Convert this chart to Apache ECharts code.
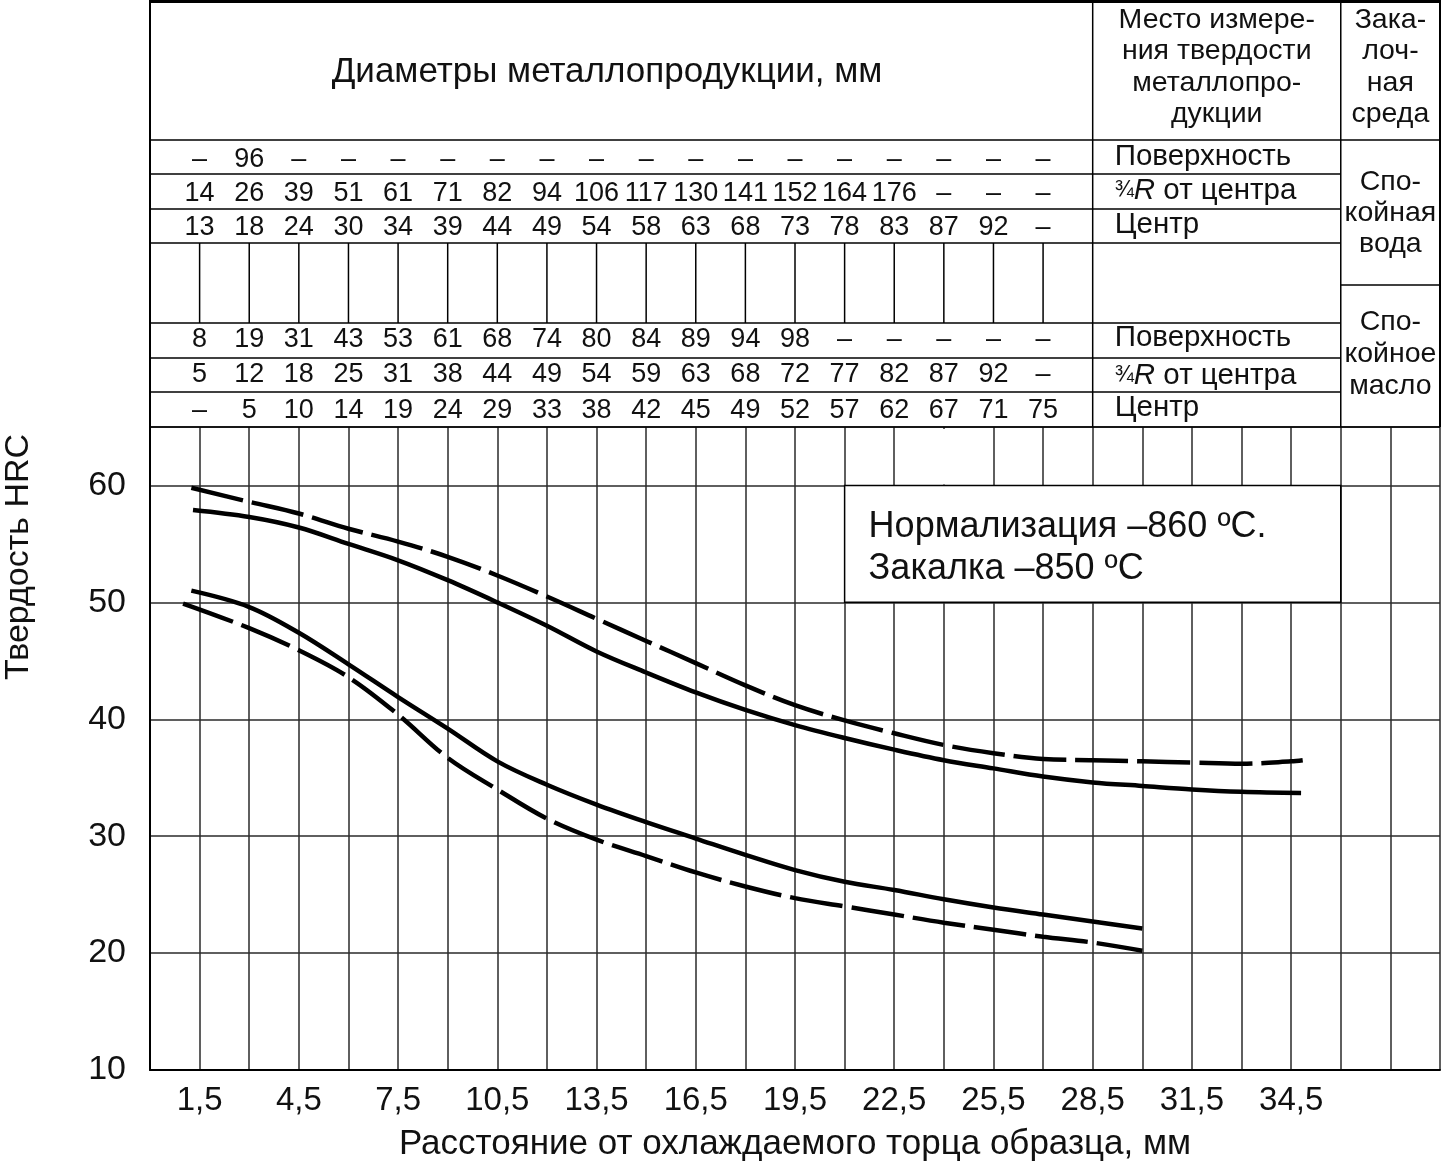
<!DOCTYPE html>
<html>
<head>
<meta charset="utf-8">
<script src="https://cdn.jsdelivr.net/npm/echarts@6/dist/echarts.min.js"></script>
<style>
  html, body { margin: 0; padding: 0; background: #fff; }
  #chart { width: 1451px; height: 1167px; }
</style>
</head>
<body>
<div id="chart"></div>
<script>
// hardness curves: [distance from quenched end, mm ; HRC]
const upperDashed = [[1.25,59.8],[3,58.6],[4.5,57.6],[6,56.3],[7.5,55.2],[9,53.9],[10.5,52.3],[12,50.5],[13.5,48.6],[15,46.7],[16.5,44.8],[18,42.9],[19.5,41.2],[21,39.9],[22.5,38.8],[24,37.8],[25.5,37.1],[27,36.6],[28.5,36.5],[30,36.4],[31.5,36.3],[33,36.2],[34.5,36.4],[34.85,36.5]];
const upperSolid = [[1.3,57.9],[3,57.3],[4.5,56.4],[6,55.0],[7.5,53.6],[9,51.9],[10.5,50.0],[12,48.0],[13.5,45.8],[15,44.0],[16.5,42.3],[18,40.8],[19.5,39.5],[21,38.4],[22.5,37.4],[24,36.5],[25.5,35.8],[27,35.1],[28.5,34.6],[30,34.3],[31.5,34.0],[33,33.8],[34.8,33.7]];
const lowerSolid = [[1.25,51.0],[3,49.6],[4.5,47.4],[6,44.7],[7.5,41.9],[9,39.2],[10.5,36.4],[12,34.4],[13.5,32.7],[15,31.2],[16.5,29.8],[18,28.4],[19.5,27.1],[21,26.1],[22.5,25.4],[24,24.6],[25.5,23.9],[27,23.3],[28.5,22.7],[30,22.1]];
const lowerDashed = [[1.0,49.9],[3,47.8],[4.5,45.9],[6,43.6],[7.5,40.4],[9,36.7],[10.5,34.0],[12,31.5],[13.5,29.7],[15,28.3],[16.5,26.9],[18,25.7],[19.5,24.7],[21,24.0],[22.5,23.3],[24,22.6],[25.5,22.0],[27,21.4],[28.5,20.9],[30,20.2]];

const xTicks = [1.5,4.5,7.5,10.5,13.5,16.5,19.5,22.5,25.5,28.5,31.5,34.5];
const yTicks = [10,20,30,40,50,60];

// diameter table (columns sit on the distance grid)
const tableCols = [1.5,3,4.5,6,7.5,9,10.5,12,13.5,15,16.5,18,19.5,21,22.5,24,25.5,27];
const waterSurface = ['–','96','–','–','–','–','–','–','–','–','–','–','–','–','–','–','–','–'];
const waterQuarter = ['14','26','39','51','61','71','82','94','106','117','130','141','152','164','176','–','–','–'];
const waterCenter  = ['13','18','24','30','34','39','44','49','54','58','63','68','73','78','83','87','92','–'];
const oilSurface   = ['8','19','31','43','53','61','68','74','80','84','89','94','98','–','–','–','–','–'];
const oilQuarter   = ['5','12','18','25','31','38','44','49','54','59','63','68','72','77','82','87','92','–'];
const oilCenter    = ['–','5','10','14','19','24','29','33','38','42','45','49','52','57','62','67','71','75'];

const FONT = '"Liberation Sans", Arial, Helvetica, sans-serif';
const INK = '#111';
const GRIDLINE = '#2a2a2a';

const chart = echarts.init(document.getElementById('chart'));

function curve(name, data, dashed) {
  return {
    name: name,
    type: 'line',
    data: data,
    smooth: 0.35,
    symbol: 'none',
    z: 5,
    lineStyle: { color: '#000', width: 4.5, type: dashed ? [53, 9] : 'solid', cap: 'butt' }
  };
}

const near = (arr, v) => arr.some(t => Math.abs(t - v) < 1e-6);

chart.setOption({
  animation: false,
  backgroundColor: '#fff',
  grid: { left: 150, top: 427, right: 11, bottom: 94 },
  xAxis: {
    type: 'value', min: 0, max: 39, interval: 1.5,
    axisLine: { show: true, lineStyle: { color: '#000', width: 2 } },
    axisTick: { show: false },
    axisLabel: {
      margin: 14, fontSize: 33, color: INK, fontFamily: FONT,
      formatter: v => near(xTicks, v) ? String(v).replace('.', ',') : ''
    },
    splitLine: { show: true, lineStyle: { color: GRIDLINE, width: 1.5 } },
    name: 'Расстояние от охлаждаемого торца образца, мм',
    nameLocation: 'middle', nameGap: 57,
    nameTextStyle: { fontSize: 35, color: INK, fontFamily: FONT }
  },
  yAxis: {
    type: 'value', min: 10, max: 65, interval: 10,
    axisLine: { show: true, lineStyle: { color: '#000', width: 2 } },
    axisTick: { show: false },
    axisLabel: {
      margin: 24, fontSize: 34, color: INK, fontFamily: FONT,
      formatter: v => near(yTicks, v) ? String(v) : ''
    },
    splitLine: { show: true, lineStyle: { color: GRIDLINE, width: 1.5 } }
  },
  series: [
    curve('upperDashed', upperDashed, true),
    curve('upperSolid', upperSolid, false),
    curve('lowerSolid', lowerSolid, false),
    curve('lowerDashed', lowerDashed, true)
  ]
});

// ---- table, annotation and side labels, placed through the x scale ----
const px = v => chart.convertToPixel({ xAxisIndex: 0 }, v);
const py = v => chart.convertToPixel({ yAxisIndex: 0 }, v);

const L = px(0), R = px(39), colMid = px(28.5), colRight = px(36);
const g = [];

function line(x1, y1, x2, y2, w) {
  g.push({ type: 'line', z: 50, shape: { x1, y1, x2, y2 }, style: { stroke: '#000', lineWidth: w || 1.5 } });
}
function text(str, x, y, size, align, extra) {
  g.push({
    type: 'text', z: 60, x: x, y: y,
    style: Object.assign({ text: str, fill: INK, font: size + 'px ' + FONT,
      textAlign: align || 'center', textVerticalAlign: 'middle' }, extra || {})
  });
}
function block(str, x, y, size, lh) {
  g.push({ type: 'text', z: 60, x: x, y: y,
    style: { text: str, fill: INK, font: size + 'px ' + FONT, lineHeight: lh,
      textAlign: 'center', textVerticalAlign: 'middle' } });
}

// outer frame and column borders
line(L, 1.5, R, 1.5, 3);
line(L, 0, L, 427, 2);
line(R, 0, R, 427, 2);
line(colMid, 0, colMid, 427, 1.5);
line(colRight, 0, colRight, 427, 1.5);

// horizontal rules
line(L, 140, R, 140);
[174, 209, 243, 323, 358, 392].forEach(y => line(L, y, colRight, y));
line(colRight, 285, R, 285);
line(L, 427, R, 427, 1.5);

// vertical rules in the blank band
tableCols.forEach(c => line(px(c), 243, px(c), 323));

// grid line segment above 60 HRC at 24 mm is absent in the original
g.push({ type: 'line', z: 40, shape: { x1: px(24), y1: 429, x2: px(24), y2: py(60) - 1 },
  style: { stroke: '#fff', lineWidth: 3 } });

// header
text('Диаметры металлопродукции, мм', 607, 72, 35);
block('Место измере-\nния твердости\nметаллопро-\nдукции', (colMid + colRight) / 2, 67, 28.5, 31.5);
block('Зака-\nлоч-\nная\nсреда', (colRight + R) / 2, 67, 28.5, 31.5);
block('Спо-\nкойная\nвода', (colRight + R) / 2, 213, 28.5, 31);
block('Спо-\nкойное\nмасло', (colRight + R) / 2, 354, 28.5, 32);

// table rows
const rows = [
  { vals: waterSurface, y: 160, label: 'Поверхность', ly: 157 },
  { vals: waterQuarter, y: 194, label: '{f|¾}{r|R} от центра', ly: 191 },
  { vals: waterCenter,  y: 228, label: 'Центр', ly: 225 },
  { vals: oilSurface,   y: 340, label: 'Поверхность', ly: 338 },
  { vals: oilQuarter,   y: 375, label: '{f|¾}{r|R} от центра', ly: 376 },
  { vals: oilCenter,    y: 411, label: 'Центр', ly: 408 }
];
const rich = {
  f: { fontSize: 23, fontFamily: FONT, fill: INK },
  r: { fontSize: 29.5, fontFamily: FONT, fontStyle: 'italic', fill: INK }
};
rows.forEach(r => {
  r.vals.forEach((v, i) => text(v, px(tableCols[i]), r.y, 27));
  text(r.label, colMid + 22, r.ly, 29.5, 'left', { rich: rich });
});

// annotation box
const bx1 = px(21), bx2 = px(36), by1 = py(60), by2 = py(50);
g.push({ type: 'rect', z: 45, shape: { x: bx1, y: by1, width: bx2 - bx1, height: by2 - by1 },
  style: { fill: '#fff', stroke: '#000', lineWidth: 1.5 } });
text('Нормализация –860 ºС.', bx1 + 24, 527, 36, 'left');
text('Закалка –850 ºС', bx1 + 24, 569, 36, 'left');

// y axis title
g.push({ type: 'text', z: 60, x: 19, y: 557, rotation: Math.PI / 2,
  style: { text: 'Твердость HRC', fill: INK, font: '34px ' + FONT, textAlign: 'center', textVerticalAlign: 'middle' } });

chart.setOption({ graphic: { elements: g } });
</script>
</body>
</html>
